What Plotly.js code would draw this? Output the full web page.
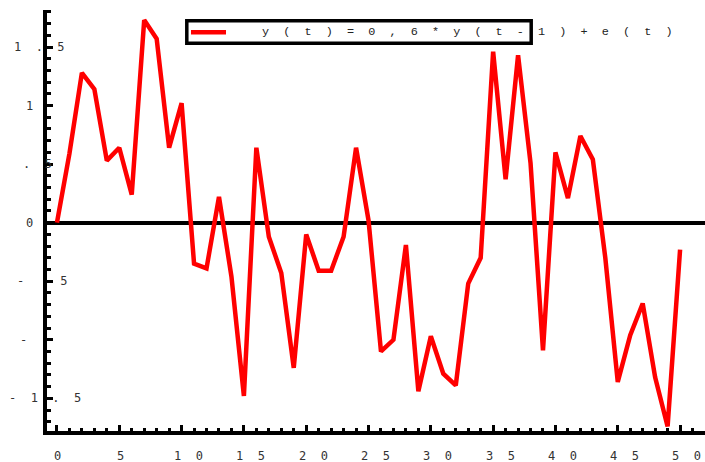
<!DOCTYPE html>
<html>
<head>
<meta charset="utf-8">
<script src="https://cdn.plot.ly/plotly-3.0.1.min.js"></script>
<style>
  html, body { margin: 0; padding: 0; background: #fff; }
  #chart { width: 705px; height: 462px; }
</style>
</head>
<body>
<div id="chart"></div>
<script>
// AR(1) sample path, t = 0..50
const t = [
  0, 1, 2, 3, 4, 5, 6, 7, 8, 9,
  10, 11, 12, 13, 14, 15, 16, 17, 18, 19,
  20, 21, 22, 23, 24, 25, 26, 27, 28, 29,
  30, 31, 32, 33, 34, 35, 36, 37, 38, 39,
  40, 41, 42, 43, 44, 45, 46, 47, 48, 49, 50
];
const y = [
  0.00, 0.59, 1.28, 1.14, 0.53, 0.64, 0.24, 1.73, 1.57, 0.64,
  1.02, -0.35, -0.39, 0.22, -0.46, -1.48, 0.64, -0.12, -0.43, -1.24,
  -0.10, -0.41, -0.41, -0.12, 0.64, 0.02, -1.10, -1.00, -0.19, -1.44,
  -0.97, -1.29, -1.39, -0.52, -0.30, 1.46, 0.37, 1.43, 0.51, -1.09,
  0.60, 0.21, 0.74, 0.54, -0.30, -1.36, -0.96, -0.69, -1.32, -1.74, -0.23
];
const seriesName = 'y(t)=0,6*y(t-1)+e(t)';

const xTickVals = [0, 5, 10, 15, 20, 25, 30, 35, 40, 45, 50];
const xTickText = ['0', '5', '10', '15', '20', '25', '30', '35', '40', '45', '50'];
const yTickVals = [1.5, 1, 0.5, 0, -0.5, -1, -1.5];
const yTickText = ['1.5', '1', '.5', '0', '-.5', '-1', '-1.5'];

// ---- layout geometry (pixels) ----
const W = 705, H = 462;
const M = { l: 47, r: 0, t: 10, b: 31 };
const plotW = W - M.l - M.r, plotH = H - M.t - M.b;
const px2paperX = px => (px - M.l) / plotW;
const px2paperY = py => (H - M.b - py) / plotH;

const CHAR_W = 7.22;          // DejaVu Sans Mono advance at 12px
const PITCH = 3 * CHAR_W;     // glyph + two spaces
const GAP = '\u00a0\u00a0';   // wide letter spacing used by all labels
const tickFont = { family: 'DejaVu Sans Mono, monospace', size: 12, color: '#333' };

// y labels: centre of the first glyph, in page pixels
const yLabelFirstX = [17.3, 30, 26.7, 30, 20.7, 24, 12.3];
const axisLineX = M.l - 2;

const annotations = [];

xTickVals.forEach((v, i) => {
  const txt = xTickText[i];
  const firstOffset = txt.length > 1 ? -4 : 1;
  annotations.push({
    xref: 'x', yref: 'paper', x: v, y: 0,
    xanchor: 'left', yanchor: 'middle',
    xshift: firstOffset - CHAR_W / 2, yshift: -25,
    text: Array.from(txt).join(GAP), showarrow: false, font: tickFont,
    borderpad: 0, borderwidth: 0
  });
});

yTickVals.forEach((v, i) => {
  const chars = Array.from(yTickText[i]);
  const first = yLabelFirstX[i];
  // glyphs that land on the thick axis line are covered by it
  const parts = chars.map((c, k) => {
    const cx = first + k * PITCH;
    return Math.abs(cx - axisLineX) < 3
      ? '<span style="color:rgba(0,0,0,0)">' + c + '</span>' : c;
  });
  annotations.push({
    xref: 'paper', yref: 'y', x: 0, y: v,
    xanchor: 'left', yanchor: 'middle',
    xshift: first - CHAR_W / 2 - M.l,
    text: parts.join(GAP), showarrow: false, font: tickFont,
    borderpad: 0, borderwidth: 0
  });
});

// legend entry text (runs past its frame)
annotations.push({
  xref: 'paper', yref: 'paper',
  x: px2paperX(261.5), y: px2paperY(32.5),
  xanchor: 'left', yanchor: 'middle',
  text: Array.from(seriesName).join(GAP), showarrow: false,
  font: { family: 'Liberation Mono, monospace', size: 11.8, color: '#222' },
  borderpad: 0, borderwidth: 0
});

const shapes = [
  { type: 'rect', xref: 'paper', yref: 'paper', layer: 'above',
    x0: px2paperX(186.8), x1: px2paperX(531.2),
    y0: px2paperY(43.2), y1: px2paperY(20.8),
    line: { color: '#000', width: 3.5 }, fillcolor: '#fff' },
  { type: 'line', xref: 'paper', yref: 'paper', layer: 'above',
    x0: px2paperX(191), x1: px2paperX(226),
    y0: px2paperY(32.3), y1: px2paperY(32.3),
    line: { color: '#ff0000', width: 4.5 } }
];

const trace = {
  x: t, y: y, name: seriesName,
  type: 'scatter', mode: 'lines',
  line: { color: '#ff0000', width: 4.5 },
  showlegend: false, cliponaxis: true
};

const layout = {
  width: W, height: H,
  margin: M,
  paper_bgcolor: '#fff', plot_bgcolor: '#fff',
  showlegend: false,
  xaxis: {
    range: [-0.8, 52.0],
    showgrid: false, zeroline: false,
    showline: true, linecolor: '#000', linewidth: 4,
    ticks: 'inside', tick0: 0, dtick: 5, ticklen: 6, tickwidth: 3, tickcolor: '#000',
    minor: { ticks: 'inside', tick0: 0, dtick: 1, ticklen: 3.5, tickwidth: 3, tickcolor: '#000', showgrid: false },
    showticklabels: false
  },
  yaxis: {
    range: [-1.779, 1.816],
    showgrid: false,
    zeroline: true, zerolinecolor: '#000', zerolinewidth: 4,
    showline: true, linecolor: '#000', linewidth: 4,
    ticks: 'inside', tick0: 0, dtick: 0.5, ticklen: 6, tickwidth: 3, tickcolor: '#000',
    minor: { ticks: 'inside', tick0: 0, dtick: 0.1, ticklen: 3.5, tickwidth: 3, tickcolor: '#000', showgrid: false },
    showticklabels: false
  },
  annotations: annotations,
  shapes: shapes
};

Plotly.newPlot('chart', [trace], layout, { staticPlot: true, displayModeBar: false });
</script>
</body>
</html>
